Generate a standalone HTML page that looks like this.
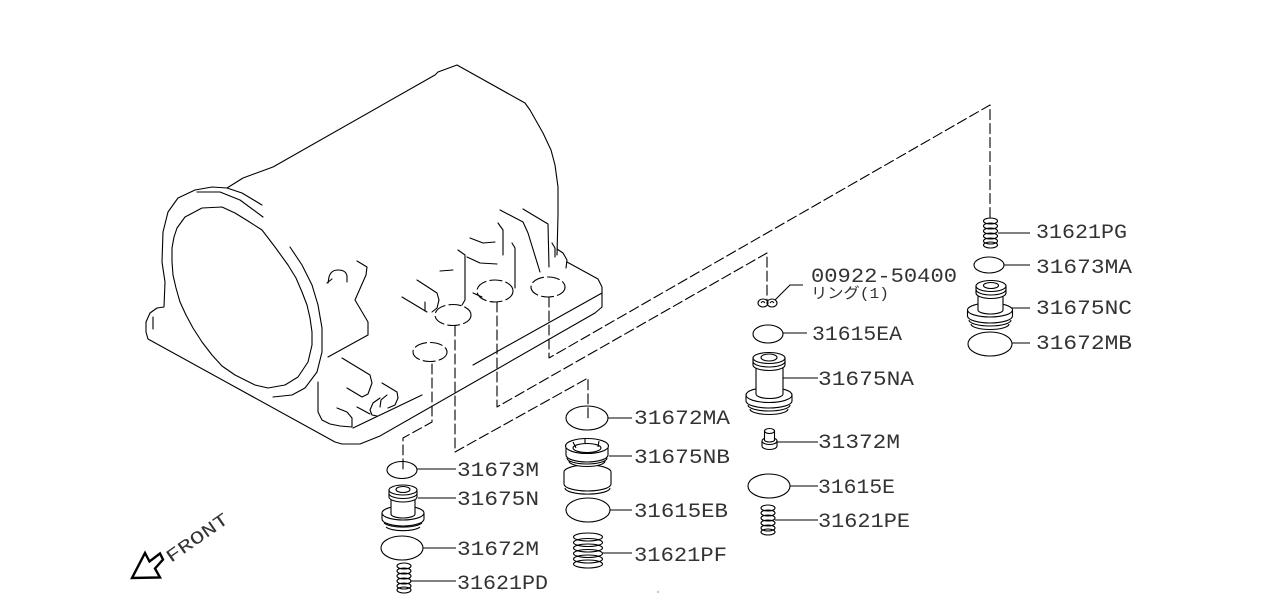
<!DOCTYPE html>
<html><head><meta charset="utf-8"><style>
html,body{margin:0;padding:0;background:#fff;}
svg{display:block;}
text{font-family:"Liberation Mono","Noto Sans CJK JP",monospace;fill:#333;}
</style></head><body>
<svg width="1280" height="595" viewBox="0 0 1280 595" xmlns="http://www.w3.org/2000/svg">
<rect width="1280" height="595" fill="#fff"/>
<g fill="none" stroke="#000" stroke-width="1.1" stroke-linejoin="round" stroke-linecap="round">
<!-- housing -->
<polyline points="227,188 243,178 273,167 435,75 438,72 457,65 525,103 530,110 543,133 551,150 555,165 558,187 558,215 557,255"/>
<polyline points="262,205 242,193 227,188 212,187 195,190 178,198 168,212 163,232 162,262 165,282 164,307 157,308 150,313 146,322 146,332 148,339 335,442 342,444 360,444 380,436 595,313 602,307 602,287 598,279 567,262"/>
<polyline points="197,192 220,192 240,200 263,217"/>
<line x1="153" y1="317" x2="153" y2="329"/>
<polygon points="185,217 202,208 222,207 235,213 248,221 262,230 275,247 288,265 296,278 302,292 307,305 310,318 312,332 312,345 308,362 298,377 285,385 268,388 255,385 235,375 222,366 212,355 202,342 193,328 186,315 180,302 176,288 173,275 172,262 172,248 174,237 177,228"/>
<polyline points="290,247 302,265 312,285 318,305 322,328 322,352 317,372 305,388 292,395 273,397"/>
<path d="M328,283 L329,277 Q331,270 338,270 Q346,270 347,276 L347,282 M327,283 L332,279"/>
<polyline points="357,261 367,267 366,275 355,300 368,322 368,335 328,357"/>
<polyline points="342,358 370,375 372,383 368,394 362,397 347,388"/>
<polyline points="382,383 397,392 398,398 395,405 388,408"/>
<polyline points="380,398 373,403 370,410 372,415 377,416"/>
<polyline points="387,395 381,400 380,407"/>
<line x1="357" y1="407" x2="370" y2="414"/>
<polyline points="337,408 347,412 352,418 352,427"/>
<polyline points="318,382 318,412 322,420 330,424 340,426 352,427"/>
<line x1="353" y1="428" x2="422" y2="395"/>
<line x1="473" y1="365" x2="602" y2="293"/>
<polyline points="523,209 548,224 549,267"/>
<polyline points="500,210 523,222 528,233 540,272"/>
<polyline points="498,223 503,230 503,255"/>
<polyline points="512,243 515,248 515,288"/>
<polyline points="470,238 483,243 495,242"/>
<polyline points="458,250 465,255 465,300 462,305"/>
<polyline points="467,257 480,263 497,264"/>
<line x1="440" y1="271" x2="453" y2="270"/>
<polyline points="417,280 437,293 439,300 437,308 432,312"/>
<line x1="425" y1="302" x2="425" y2="311"/>
<line x1="402" y1="297" x2="427" y2="312"/>
<line x1="473" y1="293" x2="482" y2="297"/>
<polyline points="552,243 555,248 555,257"/>
<polyline points="557,249 563,253 567,260 566,268"/>
<!-- holes -->
<g stroke-dasharray="12 4">
<ellipse cx="430" cy="352" rx="17" ry="9.5"/>
<ellipse cx="453" cy="315" rx="18" ry="10.5"/>
<ellipse cx="495" cy="291" rx="18" ry="11"/>
<ellipse cx="548" cy="287" rx="17" ry="10"/>
</g>
<!-- dashed connectors -->
<g stroke-dasharray="10 4">
<polyline points="432,364 432,422 403,438 403,470"/>
<polyline points="455,326 455,452 588,378 588,418"/>
<polyline points="497,302 497,407 767,253 767,300"/>
<polyline points="549,297 549,358 990,105 990,218"/>
</g>
</g>

<g fill="none" stroke="#000" stroke-width="1.1">
<!-- left column -->
<ellipse cx="402" cy="470" rx="15" ry="8.5"/>
<path d="M417,469 H456"/>
<g fill="#fff">
<path d="M386,527 A18,5.5 0 0 0 420,527" fill="none"/>
<path d="M384,523 A20,6 0 0 0 422,523"/>
<path d="M382,513 V519 A21,7 0 0 0 424,519 V513"/>
<ellipse cx="403" cy="513" rx="21" ry="7"/>
<path d="M391,494 V514 A12,4 0 0 0 415,514 V494 Z"/>
<path d="M389,490 V497 A14,5 0 0 0 417,497 V490"/>
<path d="M389,493.5 A14,5 0 0 0 417,493.5" fill="none"/>
<ellipse cx="403" cy="490" rx="14" ry="5"/>
<ellipse cx="403" cy="489.5" rx="7" ry="3"/>
</g>
<path d="M418,498 H456"/>
<ellipse cx="402" cy="548" rx="21" ry="12"/>
<path d="M423,548 H456"/>
<ellipse cx="404" cy="566" rx="7" ry="3"/>
<ellipse cx="404" cy="571" rx="7" ry="3"/>
<ellipse cx="404" cy="576" rx="7" ry="3"/>
<ellipse cx="404" cy="581" rx="7" ry="3"/>
<ellipse cx="404" cy="586" rx="7" ry="3"/>
<ellipse cx="404" cy="590" rx="7" ry="3"/>
<path d="M411,581 H456"/>

<!-- middle column -->
<ellipse cx="587" cy="418" rx="21" ry="12"/>
<path d="M608,418 H632"/>
<g fill="#fff">
<path d="M565,488 A22,6 0 0 0 610,488" fill="none"/>
<path d="M564,472 V484 A23.5,7 0 0 0 611,484 V472"/>
<path d="M564,472 A23.5,7 0 0 1 611,472" fill="none"/>
<path d="M569,461 A18,5.5 0 0 0 605,461"/>
<path d="M567,458 A20,6 0 0 0 607,458"/>
<path d="M566,446 V455 A21,7 0 0 0 608,455 V446"/>
<ellipse cx="587" cy="446" rx="21.5" ry="7.5"/>
<ellipse cx="587" cy="448" rx="14" ry="4.5"/>
</g>
<path d="M573,442 L576,448 M599,441 L598,447 M585,439 V444"/>
<path d="M609,456 H632"/>
<ellipse cx="588" cy="510" rx="22" ry="12"/>
<path d="M610,510 H632"/>
<ellipse cx="588" cy="537" rx="14.5" ry="4"/>
<ellipse cx="588" cy="542.5" rx="14.5" ry="4"/>
<ellipse cx="588" cy="548" rx="14.5" ry="4"/>
<ellipse cx="588" cy="553.5" rx="14.5" ry="4"/>
<ellipse cx="588" cy="559" rx="14.5" ry="4"/>
<ellipse cx="588" cy="564" rx="14.5" ry="4"/>
<path d="M603,553 H632"/>

<!-- right-middle column -->
<ellipse cx="763" cy="303" rx="5" ry="4"/>
<ellipse cx="772" cy="303" rx="5" ry="4"/>
<path d="M761,303 Q763,300 765,303 M770,303 Q772,300 774,303"/>
<polyline points="775,300 790,285 803,285"/>
<ellipse cx="768" cy="334" rx="15" ry="9"/>
<path d="M783,333 H807"/>
<g fill="#fff">
<path d="M750,409 A19,5.5 0 0 0 788,409" fill="none"/>
<path d="M748,405 A21,6 0 0 0 790,405"/>
<path d="M746,395 V401 A23,7 0 0 0 792,401 V395"/>
<ellipse cx="769" cy="395" rx="23" ry="7.5"/>
<path d="M756,364 V394 A13.5,4.5 0 0 0 783,394 V364 Z"/>
<path d="M753,358 V365 A16,5.5 0 0 0 785,365 V358"/>
<path d="M753,361.5 A16,5.5 0 0 0 785,361.5" fill="none"/>
<ellipse cx="769" cy="358" rx="16" ry="5.5"/>
<ellipse cx="769" cy="357.5" rx="8" ry="3.5"/>
</g>
<path d="M783,378 H818"/>
<g fill="#fff">
<path d="M762,441 V446 A7.5,3.5 0 0 0 777,446 V441"/>
<ellipse cx="769.5" cy="441" rx="7.5" ry="3.5"/>
<path d="M764.5,431 V440 A5,2 0 0 0 774.5,440 V431 Z"/>
<ellipse cx="769.5" cy="431" rx="5" ry="2.5"/>
</g>
<path d="M777,442 H818"/>
<ellipse cx="769" cy="486" rx="21" ry="12"/>
<path d="M790,486 H818"/>
<ellipse cx="768" cy="508" rx="7" ry="3"/>
<ellipse cx="768" cy="513" rx="7" ry="3"/>
<ellipse cx="768" cy="518" rx="7" ry="3"/>
<ellipse cx="768" cy="523" rx="7" ry="3"/>
<ellipse cx="768" cy="528" rx="7" ry="3"/>
<ellipse cx="768" cy="532" rx="7" ry="3"/>
<path d="M775,520 H818"/>

<!-- right column -->
<ellipse cx="990.5" cy="221" rx="7" ry="3"/>
<ellipse cx="990.5" cy="226" rx="7" ry="3"/>
<ellipse cx="990.5" cy="231" rx="7" ry="3"/>
<ellipse cx="990.5" cy="236" rx="7" ry="3"/>
<ellipse cx="990.5" cy="241" rx="7" ry="3"/>
<ellipse cx="990.5" cy="245" rx="7" ry="3"/>
<path d="M998,233 H1030"/>
<ellipse cx="989" cy="265" rx="15" ry="8"/>
<path d="M1004,265 H1030"/>
<g fill="#fff">
<path d="M971,324 A19,5.5 0 0 0 1009,324" fill="none"/>
<path d="M969,320 A21,6 0 0 0 1011,320"/>
<path d="M967.5,310 V316 A22.5,7 0 0 0 1012.5,316 V310"/>
<ellipse cx="990" cy="310" rx="22.5" ry="7"/>
<path d="M978,292 V310 A12.5,4 0 0 0 1003,310 V292 Z"/>
<path d="M976,286 V293 A15,5.5 0 0 0 1006,293 V286"/>
<path d="M976,289.5 A15,5.5 0 0 0 1006,289.5" fill="none"/>
<ellipse cx="991" cy="286" rx="15" ry="5.5"/>
<ellipse cx="991" cy="285.5" rx="7.5" ry="3"/>
</g>
<path d="M1012,308 H1030"/>
<ellipse cx="990" cy="344" rx="22" ry="12"/>
<path d="M1012,343 H1030"/>
</g>

<!-- front arrow -->
<polygon points="132,578 145,553 149.5,561.5 160,553.5 163,559.5 155,568.5 160,577.5" fill="none" stroke="#000" stroke-width="2.4" stroke-linejoin="miter"/>
<text transform="translate(171,563) rotate(-35)" font-size="18" textLength="72" lengthAdjust="spacingAndGlyphs">FRONT</text>

<!-- labels -->
<g font-size="20.5">
<text x="457" y="476" textLength="82" lengthAdjust="spacingAndGlyphs">31673M</text>
<text x="457" y="505" textLength="82" lengthAdjust="spacingAndGlyphs">31675N</text>
<text x="457" y="555" textLength="82" lengthAdjust="spacingAndGlyphs">31672M</text>
<text x="457" y="589" textLength="91" lengthAdjust="spacingAndGlyphs">31621PD</text>
<text x="634" y="424" textLength="96" lengthAdjust="spacingAndGlyphs">31672MA</text>
<text x="634" y="463" textLength="96" lengthAdjust="spacingAndGlyphs">31675NB</text>
<text x="634" y="517" textLength="94" lengthAdjust="spacingAndGlyphs">31615EB</text>
<text x="634" y="561" textLength="93" lengthAdjust="spacingAndGlyphs">31621PF</text>
<text x="811" y="282" textLength="146" lengthAdjust="spacingAndGlyphs">00922-50400</text>
<text x="812" y="340" textLength="90" lengthAdjust="spacingAndGlyphs">31615EA</text>
<text x="818" y="385" textLength="96" lengthAdjust="spacingAndGlyphs">31675NA</text>
<text x="818" y="448" textLength="82" lengthAdjust="spacingAndGlyphs">31372M</text>
<text x="818" y="493" textLength="77" lengthAdjust="spacingAndGlyphs">31615E</text>
<text x="818" y="527" textLength="92" lengthAdjust="spacingAndGlyphs">31621PE</text>
<text x="1036" y="238" textLength="91" lengthAdjust="spacingAndGlyphs">31621PG</text>
<text x="1036" y="273" textLength="96" lengthAdjust="spacingAndGlyphs">31673MA</text>
<text x="1036" y="314" textLength="96" lengthAdjust="spacingAndGlyphs">31675NC</text>
<text x="1036" y="349" textLength="96" lengthAdjust="spacingAndGlyphs">31672MB</text>
</g>
<text x="811" y="298" font-size="15" textLength="78" lengthAdjust="spacingAndGlyphs">リング(1)</text>

<circle cx="658" cy="592" r="1.2" fill="#f2b8b8"/>
<circle cx="502" cy="590" r="1" fill="#dde"/>
</svg>
</body></html>
